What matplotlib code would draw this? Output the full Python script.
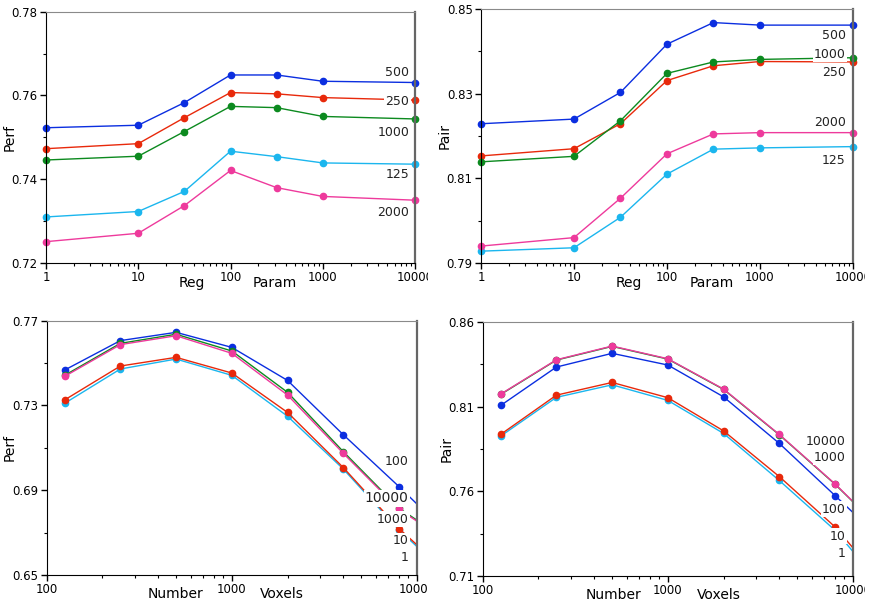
import numpy as np
import matplotlib
matplotlib.use('Agg')
import matplotlib.pyplot as plt
from matplotlib import ticker as mticker
from matplotlib.patches import Rectangle

# ---- data ----
# top row: x = regularisation parameter, one line per number of voxels
reg_param = [1, 10, 31.6, 100, 316, 1000, 10000]
vox_names = ['125', '250', '500', '1000', '2000']

perf_by_vox = {
    '125':  [0.7310, 0.7323, 0.7371, 0.7467, 0.7454, 0.7439, 0.7436],
    '250':  [0.7473, 0.7485, 0.7547, 0.7607, 0.7604, 0.7595, 0.7589],
    '500':  [0.7523, 0.7529, 0.7583, 0.7649, 0.7649, 0.7634, 0.7631],
    '1000': [0.7446, 0.7455, 0.7514, 0.7574, 0.7571, 0.7550, 0.7544],
    '2000': [0.7251, 0.7271, 0.7337, 0.7421, 0.7380, 0.7359, 0.7350],
}
pair_by_vox = {
    '125':  [0.7928, 0.7936, 0.8008, 0.8110, 0.8169, 0.8172, 0.8175],
    '250':  [0.8153, 0.8170, 0.8229, 0.8331, 0.8366, 0.8376, 0.8375],
    '500':  [0.8229, 0.8240, 0.8303, 0.8417, 0.8468, 0.8462, 0.8462],
    '1000': [0.8139, 0.8152, 0.8236, 0.8348, 0.8375, 0.8381, 0.8385],
    '2000': [0.7940, 0.7960, 0.8053, 0.8158, 0.8205, 0.8208, 0.8208],
}

# bottom row: x = number of voxels, one line per reg param
n_voxels = [125, 250, 500, 1000, 2000, 4000, 8000, 16000]
reg_names = ['1', '10', '100', '1000', '10000']

perf_by_reg = {
    '1':     [0.7310, 0.7472, 0.7519, 0.7442, 0.7249, 0.7000, 0.6712, 0.6470],
    '10':    [0.7326, 0.7486, 0.7527, 0.7453, 0.7267, 0.7007, 0.6719, 0.6480],
    '100':   [0.7467, 0.7606, 0.7645, 0.7574, 0.7418, 0.7162, 0.6917, 0.6662],
    '1000':  [0.7442, 0.7593, 0.7636, 0.7557, 0.7362, 0.7082, 0.6815, 0.6640],
    '10000': [0.7437, 0.7587, 0.7629, 0.7546, 0.7349, 0.7074, 0.6810, 0.6635],
}
pair_by_reg = {
    '1':     [0.7926, 0.8155, 0.8229, 0.8137, 0.7942, 0.7664, 0.7370, 0.6980],
    '10':    [0.7936, 0.8168, 0.8243, 0.8153, 0.7957, 0.7687, 0.7390, 0.7005],
    '100':   [0.8107, 0.8334, 0.8415, 0.8346, 0.8158, 0.7883, 0.7575, 0.7264],
    '1000':  [0.8172, 0.8375, 0.8456, 0.8381, 0.8202, 0.7934, 0.7642, 0.7319],
    '10000': [0.8174, 0.8377, 0.8458, 0.8383, 0.8204, 0.7936, 0.7644, 0.7321],
}

# colour goes with the rank of the series value (smallest -> cyan ... largest -> pink)
colors = ['#1bb6ee', '#e8290b', '#0b2ee0', '#0c8a1f', '#ee3a9c']


def style_axes(ax, xlim, ylim, ystep, xticks):
    ax.set_xscale('log')
    ax.set_xlim(*xlim)
    ax.set_ylim(*ylim)
    ax.xaxis.set_major_locator(mticker.FixedLocator(xticks))
    ax.xaxis.set_major_formatter(mticker.FuncFormatter(lambda v, p: '%d' % v))
    ax.xaxis.set_minor_locator(mticker.LogLocator(base=10, subs=np.arange(2, 10)))
    ax.xaxis.set_minor_formatter(mticker.NullFormatter())
    # major ticks start at the bottom of the range, minor ticks half way between
    ax.yaxis.set_major_locator(mticker.FixedLocator(np.arange(ylim[0], ylim[1] + 1e-6, ystep)))
    ax.yaxis.set_minor_locator(mticker.FixedLocator(np.arange(ylim[0] + ystep / 2, ylim[1], ystep)))
    ax.yaxis.set_major_formatter(mticker.FormatStrFormatter('%.2f'))
    ax.tick_params(which='major', direction='out', length=4, width=1, labelsize=8.5, pad=2)
    ax.tick_params(which='minor', direction='out', length=2.5, width=0.8)
    ax.tick_params(top=False, right=False)
    ax.spines['left'].set_color('black')
    ax.spines['bottom'].set_color('black')
    ax.spines['top'].set_color('#8a8a8a')
    ax.spines['right'].set_color('#666666')
    ax.spines['right'].set_linewidth(1.6)


def draw_lines(ax, x, series, names, clip):
    for name, c in zip(names, colors):
        ax.plot(x, series[name], '-o', color=c, lw=1.0, ms=4.5, clip_on=clip, zorder=2)


def put_labels(ax, labels, xfrac, big=None):
    for name, yfrac in labels:
        fs = 10 if name == big else 9
        ax.text(xfrac, yfrac, name, transform=ax.transAxes, ha='right', va='center',
                fontsize=fs, color='#222222', zorder=5,
                bbox=dict(facecolor='white', edgecolor='none', pad=1.0))


fig = plt.figure(figsize=(8.71, 6.02), dpi=100)
fig.patch.set_facecolor('white')

# top left: Perf vs Reg Param
ax1 = fig.add_axes([0.0528, 0.5631, 0.4237, 0.4174])
draw_lines(ax1, reg_param, perf_by_vox, vox_names, False)
style_axes(ax1, (1, 10000), (0.72, 0.78), 0.02, [1, 10, 100, 1000, 10000])
put_labels(ax1, [('500', 0.760), ('250', 0.641), ('1000', 0.521), ('125', 0.354), ('2000', 0.203)], 0.984)
ax1.set_ylabel('Perf', fontsize=10)
ax1.yaxis.set_label_coords(-0.079, 0.5)
ax1.text(0.396, -0.08, 'Reg', transform=ax1.transAxes, ha='center', va='center', fontsize=10)
ax1.text(0.621, -0.08, 'Param', transform=ax1.transAxes, ha='center', va='center', fontsize=10)

# top right: Pair vs Reg Param
ax2 = fig.add_axes([0.5522, 0.5631, 0.4271, 0.4219])
draw_lines(ax2, reg_param, pair_by_vox, vox_names, False)
style_axes(ax2, (1, 10000), (0.79, 0.85), 0.02, [1, 10, 100, 1000, 10000])
put_labels(ax2, [('500', 0.894), ('1000', 0.822), ('250', 0.749), ('2000', 0.555), ('125', 0.404)], 0.981)
ax2.set_ylabel('Pair', fontsize=10)
ax2.yaxis.set_label_coords(-0.079, 0.5)
ax2.text(0.398, -0.08, 'Reg', transform=ax2.transAxes, ha='center', va='center', fontsize=10)
ax2.text(0.621, -0.08, 'Param', transform=ax2.transAxes, ha='center', va='center', fontsize=10)

# bottom left: Perf vs Number Voxels
ax3 = fig.add_axes([0.0536, 0.0449, 0.4251, 0.4224])
draw_lines(ax3, n_voxels, perf_by_reg, reg_names, True)
style_axes(ax3, (100, 10000), (0.65, 0.77), 0.04, [100, 1000, 10000])
put_labels(ax3, [('100', 0.446), ('10000', 0.302), ('1000', 0.219), ('10', 0.134), ('1', 0.070)], 0.978, big='10000')
ax3.set_ylabel('Perf', fontsize=10)
ax3.yaxis.set_label_coords(-0.080, 0.5)
ax3.text(0.349, -0.075, 'Number', transform=ax3.transAxes, ha='center', va='center', fontsize=10)
ax3.text(0.635, -0.075, 'Voxels', transform=ax3.transAxes, ha='center', va='center', fontsize=10)

# bottom right: Pair vs Number Voxels
ax4 = fig.add_axes([0.5542, 0.0432, 0.4251, 0.4219])
draw_lines(ax4, n_voxels, pair_by_reg, reg_names, True)
style_axes(ax4, (100, 10000), (0.71, 0.86), 0.05, [100, 1000, 10000])
put_labels(ax4, [('10000', 0.529), ('1000', 0.467), ('100', 0.263), ('10', 0.157), ('1', 0.089)], 0.981)
ax4.set_ylabel('Pair', fontsize=10)
ax4.yaxis.set_label_coords(-0.078, 0.5)
ax4.text(0.352, -0.075, 'Number', transform=ax4.transAxes, ha='center', va='center', fontsize=10)
ax4.text(0.638, -0.075, 'Voxels', transform=ax4.transAxes, ha='center', va='center', fontsize=10)

# the panels were cropped: hide the tail of the last tick label
for x0, x1 in [(428, 440), (865, 871)]:
    for y0, y1 in [(0, 22), (310, 337)]:
        fig.add_artist(Rectangle((x0 / 871, y0 / 602), (x1 - x0) / 871, (y1 - y0) / 602,
                                 transform=fig.transFigure, facecolor='white',
                                 edgecolor='none', zorder=10))

fig.savefig('out.png', dpi=100)
